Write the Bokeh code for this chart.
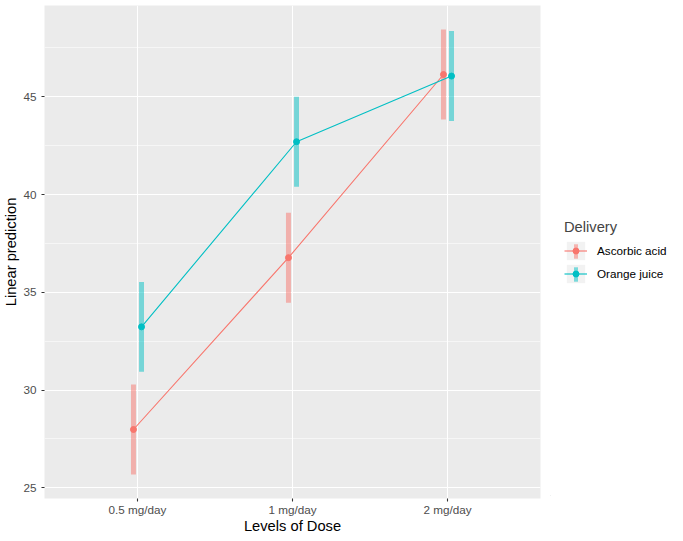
from bokeh.embed import file_html
from bokeh.layouts import row
from bokeh.models import (ColumnDataSource, FactorRange, FixedTicker, Legend,
                          LegendItem, Range1d)
from bokeh.plotting import figure
from bokeh.resources import INLINE
from bokeh.transform import dodge

# data
doses = ["0.5 mg/day", "1 mg/day", "2 mg/day"]
deliveries = ["Ascorbic acid", "Orange juice"]

aa_mean = [27.98, 36.77, 46.14]
aa_lower = [25.68, 34.47, 43.84]
aa_upper = [30.28, 39.07, 48.44]

oj_mean = [33.23, 42.70, 46.06]
oj_lower = [30.93, 40.40, 43.76]
oj_upper = [35.53, 45.00, 48.36]

y_ticks = [25, 30, 35, 40, 45]
y_minor = [27.5, 32.5, 37.5, 42.5, 47.5]

colors = ["#F8766D", "#00BFC4"]
FONT = "Liberation Sans"

p = figure(x_range=FactorRange(factors=doses, range_padding=0.1,
                               range_padding_units="absolute"),
           y_range=Range1d(24.45, 49.67),
           frame_width=496, frame_height=493,
           min_border_left=39, min_border_right=10,
           min_border_top=5, min_border_bottom=35,
           output_backend="svg", toolbar_location=None, tools="")

p.background_fill_color = "#EBEBEB"
p.border_fill_color = "white"
p.outline_line_color = None

p.yaxis.ticker = FixedTicker(ticks=y_ticks, minor_ticks=y_minor)
p.xgrid.grid_line_color = "white"
p.xgrid.grid_line_width = 1.1
p.ygrid.grid_line_color = "white"
p.ygrid.grid_line_width = 1.1
p.ygrid.minor_grid_line_color = "white"
p.ygrid.minor_grid_line_width = 0.55

for ax in (p.xaxis, p.yaxis):
    ax.axis_line_color = None
    ax.major_tick_line_color = "#333333"
    ax.major_tick_line_width = 1.1
    ax.major_tick_in = 0
    ax.major_tick_out = 3
    ax.minor_tick_line_color = None
    ax.major_label_text_font = FONT
    ax.major_label_text_font_size = "11.7px"
    ax.major_label_text_color = "#4D4D4D"
    ax.axis_label_text_font = FONT
    ax.axis_label_text_font_size = "14.7px"
    ax.axis_label_text_font_style = "normal"
    ax.axis_label_text_color = "black"

p.xaxis.axis_label = "Levels of Dose"
p.yaxis.axis_label = "Linear prediction"
p.xaxis.major_label_standoff = 1
p.yaxis.major_label_standoff = 4
p.xaxis.axis_label_standoff = -1
p.yaxis.axis_label_standoff = 1

series = [
    (aa_mean, aa_lower, aa_upper, -0.026),
    (oj_mean, oj_lower, oj_upper, 0.026),
]

for (mean, lower, upper, off), col in zip(series, colors):
    src = ColumnDataSource(dict(dose=doses, mean=mean, lower=lower, upper=upper))
    xs = dodge("dose", off, range=p.x_range)
    p.vbar(x=xs, top="upper", bottom="lower", width=0.032, source=src,
           fill_color=col, fill_alpha=0.5, line_color=None)
    p.line(x=xs, y="mean", source=src, line_color=col, line_width=1.1)
    p.scatter(x=xs, y="mean", source=src, size=6, fill_color=col, line_color=col)

# legend panel: a second figure holding stacked legends (key bg, bar, line, point)
lf = figure(width=122, height=533, x_range=Range1d(0, 1), y_range=Range1d(0, 1),
            x_axis_location=None, y_axis_location=None, min_border=0,
            output_backend="svg", toolbar_location=None, tools="")
lf.grid.visible = False
lf.outline_line_color = None
lf.background_fill_color = "white"
lf.border_fill_color = "white"

# key glyphs sit off-range so only their legend entries show
off_x, off_y = [-10, -9], [-10, -9]
key_bg = lf.vbar(x=off_x, top=off_y, bottom=-11, width=0.1,
                 fill_color="#F2F2F2", line_color=None)
key_bars = [lf.vbar(x=off_x, top=off_y, bottom=-11, width=0.1, fill_color=c,
                    fill_alpha=0.5, line_color=None) for c in colors]
key_lines = [lf.line(x=off_x, y=off_y, line_color=c, line_width=1.1) for c in colors]
key_pts = [lf.scatter(x=off_x, y=off_y, size=6, fill_color=c, line_color=c)
           for c in colors]


def make_legend(rends, labels, gw, gh, gap, loc, show_title=False):
    return Legend(items=[LegendItem(label=lab, renderers=[r])
                         for lab, r in zip(labels, rends)],
                  location=loc, glyph_width=gw, glyph_height=gh, label_height=gh,
                  spacing=gap, label_standoff=10, padding=0, margin=0,
                  title="Delivery", title_text_font=FONT,
                  title_text_font_size="14.7px", title_text_font_style="normal",
                  title_text_alpha=1 if show_title else 0, title_standoff=4,
                  label_text_font=FONT, label_text_font_size="11.7px",
                  label_text_color="black", border_line_color=None,
                  background_fill_alpha=0)


blank = [" ", " "]
lf.add_layout(make_legend([key_bg, key_bg], blank, 23, 23, 0, (14, 210)))
lf.add_layout(make_legend(key_bars, blank, 5, 18, 5, (23, 212.5)))
lf.add_layout(make_legend(key_lines, deliveries, 23, 23, 0, (14, 210), True))
lf.add_layout(make_legend(key_pts, blank, 15, 15, 8, (18, 214)))

open("out.html", "w").write(file_html(row(p, lf), INLINE))
